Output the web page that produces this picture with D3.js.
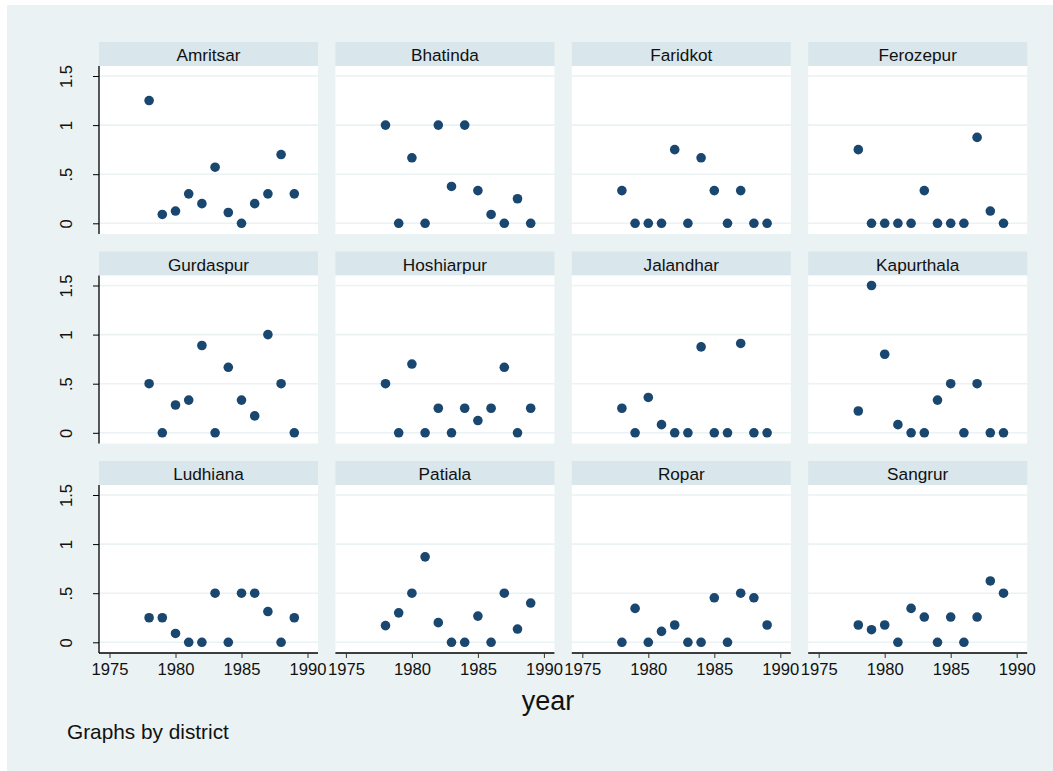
<!DOCTYPE html>
<html>
<head>
<meta charset="utf-8">
<script src="https://cdn.jsdelivr.net/npm/d3@7"></script>
<style>
  html, body { margin: 0; padding: 0; background: #fff; }
  svg { display: block; font-family: "Liberation Sans", Arial, sans-serif; }
</style>
</head>
<body>
<div id="chart"></div>
<script>
// ── Data: one value per year, per district ─────────────────────────────────
const years = [1978, 1979, 1980, 1981, 1982, 1983, 1984, 1985, 1986, 1987, 1988, 1989];
const districts = ['Amritsar', 'Bhatinda', 'Faridkot', 'Ferozepur', 'Gurdaspur', 'Hoshiarpur',
  'Jalandhar', 'Kapurthala', 'Ludhiana', 'Patiala', 'Ropar', 'Sangrur'];

const amritsar   = [1.25, 0.09, 0.125, 0.3, 0.2, 0.571, 0.11, 0, 0.2, 0.3, 0.7, 0.3];
const bhatinda   = [1, 0, 0.667, 0, 1, 0.375, 1, 0.333, 0.09, 0, 0.25, 0];
const faridkot   = [0.333, 0, 0, 0, 0.75, 0, 0.667, 0.333, 0, 0.333, 0, 0];
const ferozepur  = [0.75, 0, 0, 0, 0, 0.333, 0, 0, 0, 0.875, 0.125, 0];
const gurdaspur  = [0.5, 0, 0.283, 0.333, 0.889, 0, 0.667, 0.333, 0.172, 1, 0.5, 0];
const hoshiarpur = [0.5, 0, 0.7, 0, 0.25, 0, 0.25, 0.125, 0.25, 0.667, 0, 0.25];
const jalandhar  = [0.25, 0, 0.36, 0.083, 0, 0, 0.875, 0, 0, 0.91, 0, 0];
const kapurthala = [0.222, 1.5, 0.8, 0.083, 0, 0, 0.333, 0.5, 0, 0.5, 0, 0];
const ludhiana   = [0.25, 0.25, 0.09, 0, 0, 0.5, 0, 0.5, 0.5, 0.313, 0, 0.25];
const patiala    = [0.17, 0.3, 0.5, 0.87, 0.2, 0, 0, 0.267, 0, 0.5, 0.135, 0.4];
const ropar      = [0, 0.345, 0, 0.111, 0.176, 0, 0, 0.453, 0, 0.5, 0.453, 0.176];
const sangrur    = [0.176, 0.128, 0.176, 0, 0.345, 0.257, 0, 0.257, 0, 0.257, 0.625, 0.5];

const seriesByDistrict = [amritsar, bhatinda, faridkot, ferozepur, gurdaspur, hoshiarpur,
  jalandhar, kapurthala, ludhiana, patiala, ropar, sangrur];

const xTicks = [1975, 1980, 1985, 1990];
const yTicks = [0, 0.5, 1, 1.5];
const yTickLabels = ['0', '.5', '1', '1.5'];

// ── Layout & style (Stata s2color look) ────────────────────────────────────
const WIDTH = 1053, HEIGHT = 771;
const COLS = 4;
const PANEL_LEFT = 99, PANEL_TOP = 42;
const PANEL_STEP_X = 236.4, PANEL_STEP_Y = 209.5;
const PANEL_W = 219, STRIP_H = 24, PLOT_H = 168;
const BG = '#eaf2f3', STRIP = '#d9e6eb', MARKER = '#1a476f', GRID = '#eaf2f3';
const FONT = '"Liberation Sans", Arial, sans-serif';

// Shared scales inside one panel (every panel has the same axes)
const x = d3.scaleLinear().domain([1975, 1990]).range([10.5, 208.5]);
const y = d3.scaleLinear().domain([0, 1.5]).range([157.3, 10]);

const svg = d3.select('#chart').append('svg')
  .attr('width', WIDTH).attr('height', HEIGHT);

// graph region: light blue-gray, with a thin white margin on top/left
svg.append('rect').attr('x', 7).attr('y', 5)
  .attr('width', WIDTH - 7).attr('height', HEIGHT - 5).attr('fill', BG);

const panels = districts.map((name, i) => ({
  name, i,
  col: i % COLS,
  row: Math.floor(i / COLS),
  points: years.map((yr, k) => ({ year: yr, value: seriesByDistrict[i][k] })),
}));
const lastRow = d3.max(panels, p => p.row);

const panelGroups = svg.selectAll('g.panel').data(panels).join('g')
  .attr('class', 'panel')
  .attr('transform', p => `translate(${PANEL_LEFT + p.col * PANEL_STEP_X},${PANEL_TOP + p.row * PANEL_STEP_Y})`);

// strip with district name
panelGroups.append('rect')
  .attr('width', PANEL_W).attr('height', STRIP_H).attr('fill', STRIP);
panelGroups.append('text')
  .attr('x', PANEL_W / 2).attr('y', 19)
  .attr('text-anchor', 'middle').attr('font-size', 17.2).attr('fill', '#111')
  .text(p => p.name);

// plot region
const plots = panelGroups.append('g').attr('transform', `translate(0,${STRIP_H})`);
plots.append('rect').attr('width', PANEL_W).attr('height', PLOT_H).attr('fill', '#fff');

// horizontal gridlines
plots.selectAll('line.grid').data(yTicks).join('line')
  .attr('class', 'grid')
  .attr('x1', 0).attr('x2', PANEL_W)
  .attr('y1', d => y(d)).attr('y2', d => y(d))
  .attr('stroke', GRID).attr('stroke-width', 1.6);

// y axis only on the first column
plots.filter(p => p.col === 0).each(function () {
  const g = d3.select(this).append('g');
  g.call(d3.axisLeft(y).tickValues(yTicks).tickSize(6).tickFormat(''));
  g.select('.domain').attr('d', `M0,0V${PLOT_H}`).attr('stroke', '#000').attr('stroke-width', 1.3);
  g.selectAll('.tick line').attr('stroke', '#000');
  g.selectAll('.tick').append('text')
    .attr('transform', 'translate(-27,0) rotate(-90)')
    .attr('text-anchor', 'middle').attr('fill', '#111')
    .attr('font-size', 16.6).attr('font-family', FONT)
    .text((d, k) => yTickLabels[k]);
});

// x axis only on the last row
plots.filter(p => p.row === lastRow).each(function () {
  const g = d3.select(this).append('g').attr('transform', `translate(0,${PLOT_H})`);
  g.call(d3.axisBottom(x).tickValues(xTicks).tickSize(5).tickPadding(5).tickFormat(d3.format('d')));
  g.select('.domain').attr('d', `M0,0H${PANEL_W}`).attr('stroke', '#000').attr('stroke-width', 1.3);
  g.selectAll('.tick line').attr('stroke', '#333');
  g.selectAll('.tick text')
    .attr('font-size', 16.6).attr('fill', '#111').attr('font-family', FONT);
});

// markers
plots.selectAll('circle').data(p => p.points).join('circle')
  .attr('cx', d => x(d.year)).attr('cy', d => y(d.value))
  .attr('r', 4.8).attr('fill', MARKER);

// axis title and note
svg.append('text')
  .attr('x', 548).attr('y', 710).attr('text-anchor', 'middle')
  .attr('font-size', 27).attr('fill', '#111').text('year');
svg.append('text')
  .attr('x', 67).attr('y', 739)
  .attr('font-size', 20.8).attr('fill', '#111').text('Graphs by district');
</script>
</body>
</html>
